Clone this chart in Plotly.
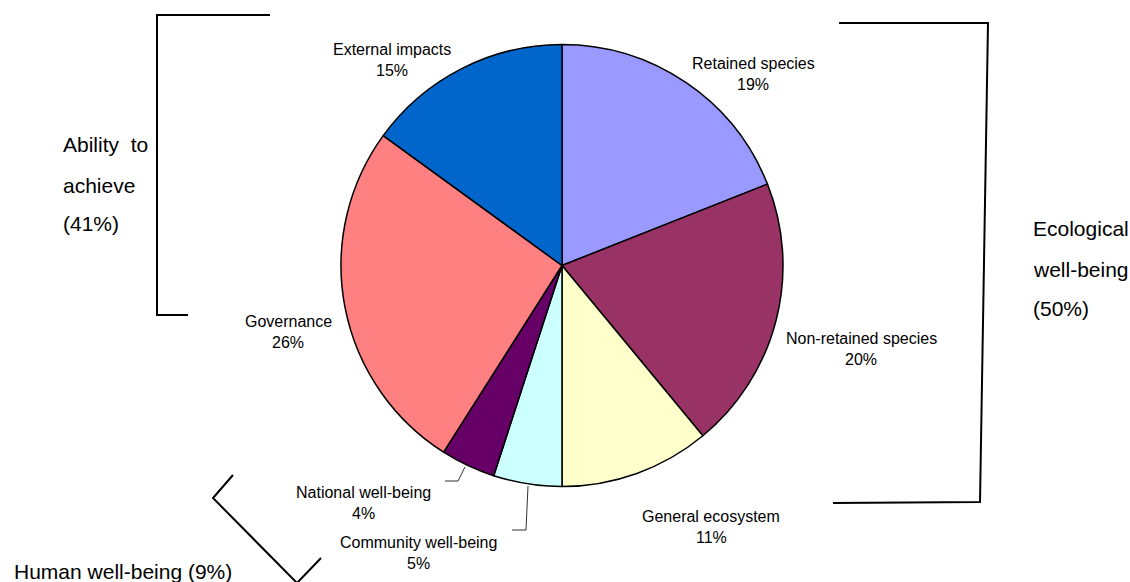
import plotly.graph_objects as go

W, H = 1130, 582

labels = ["Retained species", "Non-retained species", "General ecosystem",
          "Community well-being", "National well-being", "Governance", "External impacts"]
values = [19, 20, 11, 5, 4, 26, 15]
colors = ["#9999FF", "#993366", "#FFFFCC", "#CCFFFF", "#660066", "#FF8080", "#0066CC"]

group_lines = {
    "ability": ["Ability  to", "achieve", "(41%)"],
    "eco": ["Ecological", "well-being", "(50%)"],
    "human": ["Human well-being (9%)"],
}

FONT = "Liberation Sans, Arial, sans-serif"


def px(x):
    return x / W


def py(y):
    return 1 - y / H


cx, cy, r = 562, 265.5, 221

fig = go.Figure(go.Pie(
    labels=labels, values=values, sort=False, direction="clockwise", rotation=0,
    marker=dict(colors=colors, line=dict(color="black", width=1.5)),
    textinfo="none", hoverinfo="skip", showlegend=False,
    domain=dict(x=[px(cx - r), px(cx + r)], y=[py(cy + r), py(cy - r)]),
))

# label placements (pixel centres of name line)
label_pos = {
    "Retained species": (753, 63),
    "Non-retained species": (861, 338),
    "General ecosystem": (711, 516),
    "Community well-being": (418, 542),
    "National well-being": (363, 492),
    "Governance": (288, 321),
    "External impacts": (392, 49),
}
annotations = []
for lab, val in zip(labels, values):
    x, y = label_pos[lab]
    annotations.append(dict(x=px(x), y=py(y), xref="paper", yref="paper", text=lab,
                            showarrow=False, xanchor="center", yanchor="middle",
                            font=dict(family=FONT, size=16, color="black")))
    annotations.append(dict(x=px(x), y=py(y + 21.5), xref="paper", yref="paper", text=f"{val}%",
                            showarrow=False, xanchor="center", yanchor="middle",
                            font=dict(family=FONT, size=16, color="black")))

for t, y in zip(group_lines["ability"], [144, 185, 224]):
    annotations.append(dict(x=px(61), y=py(y), xref="paper", yref="paper", text=t,
                            showarrow=False, xanchor="left", yanchor="middle",
                            font=dict(family=FONT, size=21, color="black")))
for t, y in zip(group_lines["eco"], [229, 269, 308]):
    annotations.append(dict(x=px(1031), y=py(y), xref="paper", yref="paper", text=t,
                            showarrow=False, xanchor="left", yanchor="middle",
                            font=dict(family=FONT, size=21, color="black")))
annotations.append(dict(x=px(12), y=py(571), xref="paper", yref="paper",
                        text=group_lines["human"][0],
                        showarrow=False, xanchor="left", yanchor="middle",
                        font=dict(family=FONT, size=21, color="black")))


def path(points):
    return "M " + " L ".join(f"{px(x)},{py(y)}" for x, y in points)


shapes = [
    dict(type="path", path=path([(270, 15), (157, 15), (157, 315), (188, 315)]),
         xref="paper", yref="paper", line=dict(color="black", width=2)),
    dict(type="path", path=path([(839, 23), (988, 23), (980, 502), (833, 503)]),
         xref="paper", yref="paper", line=dict(color="black", width=2)),
    dict(type="path", path=path([(233, 475), (213, 498), (297, 583), (321, 558)]),
         xref="paper", yref="paper", line=dict(color="black", width=2)),
    dict(type="path", path=path([(465, 467), (458, 481), (445, 481)]),
         xref="paper", yref="paper", line=dict(color="#333333", width=1)),
    dict(type="path", path=path([(528, 486), (526, 530), (512, 530)]),
         xref="paper", yref="paper", line=dict(color="#333333", width=1)),
]

fig.update_layout(
    width=W, height=H, margin=dict(l=0, r=0, t=0, b=0),
    paper_bgcolor="white", plot_bgcolor="white",
    annotations=annotations, shapes=shapes,
)

fig.write_html("out.html", config={"displayModeBar": False},
               post_script="document.body.style.margin='0px';document.body.style.overflow='hidden';")
